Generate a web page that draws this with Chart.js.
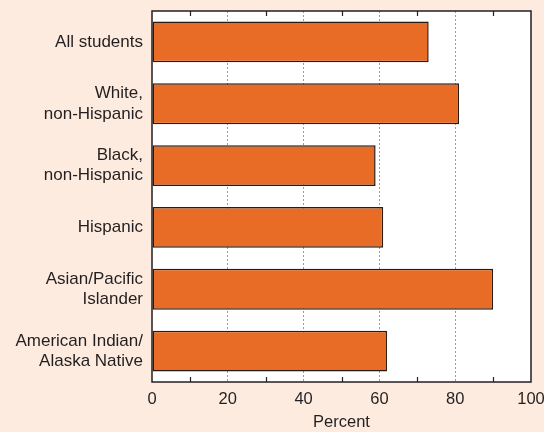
<!DOCTYPE html>
<html>
<head>
<meta charset="utf-8">
<script src="https://cdn.jsdelivr.net/npm/chart.js@4.4.1/dist/chart.umd.min.js"></script>
<style>
  html, body { margin: 0; padding: 0; background: #fdebdf; }
  #wrap { width: 544px; height: 432px; position: relative; }
</style>
</head>
<body>
<div id="wrap"><canvas id="chart-bars"></canvas></div>
<script>
// categories and values (percent)
const groups = [
  'All students',
  ['White,', 'non-Hispanic'],
  ['Black,', 'non-Hispanic'],
  'Hispanic',
  ['Asian/Pacific', 'Islander'],
  ['American Indian/', 'Alaska Native']
];
const percents = [73, 81, 59, 61, 90, 62];
const minorTicks = [10, 30, 50, 70, 90];

const FONT = 'Liberation Sans, Arial, Helvetica, sans-serif';
const INK = '#231f20';

// white plot area, frame and small inward ticks
const framePlugin = {
  id: 'frame',
  beforeDraw(chart) {
    const { ctx, chartArea: a } = chart;
    ctx.save();
    ctx.fillStyle = '#ffffff';
    ctx.fillRect(a.left, a.top, a.right - a.left, a.bottom - a.top);
    ctx.restore();
  },
  afterDraw(chart) {
    const { ctx, chartArea: a, scales } = chart;
    ctx.save();
    ctx.strokeStyle = INK;
    ctx.lineWidth = 1.5;
    ctx.strokeRect(a.left, a.top, a.right - a.left, a.bottom - a.top);
    ctx.lineWidth = 1.2;
    minorTicks.forEach(v => {
      const x = Math.round(scales.x.getPixelForValue(v)) + 0.5;
      ctx.beginPath();
      ctx.moveTo(x, a.top); ctx.lineTo(x, a.top + 5);
      ctx.moveTo(x, a.bottom); ctx.lineTo(x, a.bottom - 5);
      ctx.stroke();
    });
    ctx.restore();
  }
};

new Chart(document.getElementById('chart-bars'), {
  type: 'bar',
  data: {
    labels: groups,
    datasets: [{
      label: 'Percent',
      data: percents,
      backgroundColor: '#e86c26',
      borderColor: '#2a1a12',
      borderWidth: 1.5,
      borderSkipped: false,
      categoryPercentage: 1,
      barPercentage: 0.66,
    }]
  },
  options: {
    indexAxis: 'y',
    responsive: true,
    maintainAspectRatio: false,
    animation: false,
    layout: { padding: { top: 11, right: 13, left: 0, bottom: 0 } },
    plugins: {
      legend: { display: false },
      tooltip: { enabled: false },
    },
    scales: {
      x: {
        min: 0,
        max: 100,
        afterFit: s => { s.height = 50; s.paddingLeft = 0; s.paddingRight = 0; },
        ticks: {
          stepSize: 10,
          color: INK,
          font: { family: FONT, size: 16.5 },
          padding: 8,
          maxRotation: 0,
          autoSkip: false,
          callback: v => (v % 20 === 0 ? v : ''),
        },
        grid: {
          drawTicks: false,
          lineWidth: 1,
          color: c => {
            const v = c.tick && c.tick.value;
            return (v % 20 === 0 && v > 0 && v < 100) ? '#9a9a9a' : 'rgba(0,0,0,0)';
          },
        },
        border: { display: false, dash: [2, 2] },
        title: {
          display: true,
          text: 'Percent',
          color: INK,
          font: { family: FONT, size: 16.5 },
          padding: { top: 4, bottom: 0 },
        },
      },
      y: {
        afterFit: s => { s.width = 152; s.paddingTop = 0; s.paddingBottom = 0; },
        ticks: {
          color: INK,
          font: { family: FONT, size: 17 },
          padding: 9,
          crossAlign: 'near',
          autoSkip: false,
        },
        grid: { display: false, drawTicks: false },
        border: { display: false },
      }
    }
  },
  plugins: [framePlugin]
});
</script>
</body>
</html>
